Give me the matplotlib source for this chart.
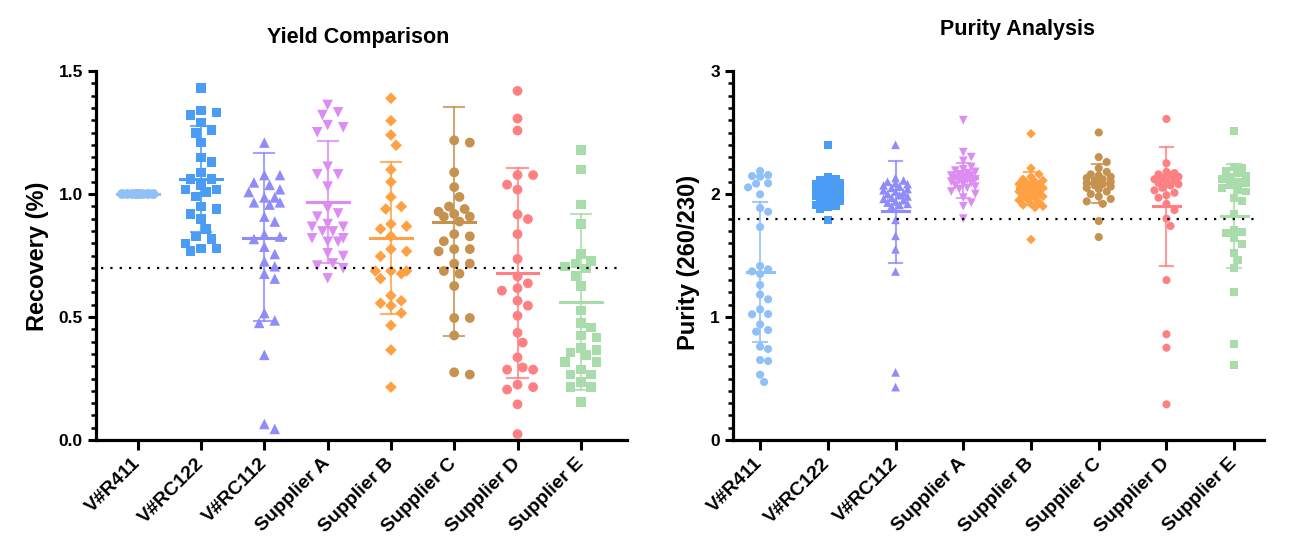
import matplotlib
matplotlib.use('Agg')
import matplotlib.pyplot as plt
import matplotlib.transforms as mtransforms
import numpy as np
from matplotlib.ticker import MultipleLocator

plt.rcParams['font.family'] = ['Liberation Sans', 'DejaVu Sans']
plt.rcParams['font.weight'] = 'bold'

categories = ['V#R411', 'V#RC122', 'V#RC112', 'Supplier A', 'Supplier B',
              'Supplier C', 'Supplier D', 'Supplier E']

# ---------------- Yield comparison (Recovery %) ----------------
rec_R411 = [1.0, 1.0, 1.0, 1.0, 1.0, 1.0, 1.0, 1.0, 1.0, 1.0, 1.0, 1.0, 1.0, 1.0, 1.0,
            1.0, 1.0, 1.0, 1.0, 1.0, 1.0, 1.0, 1.0, 1.0, 1.0, 1.0, 1.0, 1.0, 1.0, 1.0]
rec_RC122 = [1.430, 1.339, 1.331, 1.320, 1.290, 1.259, 1.249, 1.209, 1.148, 1.129, 1.088,
             1.060, 1.060, 1.037, 1.019, 1.019, 1.008, 0.989, 0.949, 0.939, 0.919, 0.898,
             0.858, 0.828, 0.818, 0.798, 0.778, 0.778, 0.768]
rec_RC112 = [1.209, 1.077, 1.077, 1.047, 1.037, 1.019, 1.008, 0.986, 0.986, 0.966, 0.966,
             0.957, 0.908, 0.888, 0.836, 0.827, 0.817, 0.786, 0.756, 0.726, 0.706, 0.676,
             0.656, 0.516, 0.486, 0.476, 0.346, 0.065, 0.045]
rec_A = [1.362, 1.332, 1.321, 1.280, 1.271, 1.251, 1.111, 1.080, 1.080, 1.030, 0.942,
         0.921, 0.908, 0.878, 0.867, 0.867, 0.848, 0.848, 0.820, 0.820, 0.806, 0.806,
         0.759, 0.748, 0.718, 0.709, 0.698, 0.657]
rec_B = [1.389, 1.298, 1.240, 1.198, 1.099, 1.049, 0.988, 0.949, 0.939, 0.878, 0.869,
         0.858, 0.828, 0.776, 0.767, 0.747, 0.687, 0.687, 0.687, 0.676, 0.656, 0.587,
         0.566, 0.556, 0.546, 0.516, 0.466, 0.366, 0.215]
rec_C = [1.218, 1.209, 1.088, 1.028, 0.988, 0.949, 0.939, 0.928, 0.919, 0.908, 0.908,
         0.888, 0.837, 0.828, 0.808, 0.776, 0.776, 0.767, 0.717, 0.717, 0.687, 0.676,
         0.626, 0.496, 0.496, 0.425, 0.275, 0.266]
rec_D = [1.419, 1.307, 1.258, 1.077, 1.077, 1.038, 1.018, 0.917, 0.898, 0.837, 0.736,
         0.665, 0.637, 0.617, 0.607, 0.566, 0.546, 0.505, 0.436, 0.396, 0.336, 0.295,
         0.286, 0.286, 0.225, 0.215, 0.205, 0.145, 0.024]
rec_E = [1.179, 1.099, 0.957, 0.878, 0.757, 0.728, 0.717, 0.706, 0.697, 0.667, 0.627,
         0.526, 0.476, 0.457, 0.425, 0.416, 0.375, 0.366, 0.355, 0.346, 0.316, 0.316,
         0.286, 0.266, 0.266, 0.236, 0.215, 0.215, 0.154]
rec_mean = [1.0, 1.062, 0.823, 0.967, 0.821, 0.888, 0.679, 0.562]
rec_low = [1.0, 0.846, 0.484, 0.721, 0.514, 0.424, 0.251, 0.203]
rec_high = [1.0, 1.278, 1.165, 1.214, 1.129, 1.355, 1.104, 0.919]
rec_threshold = 0.7

# ---------------- Purity analysis (260/230) ----------------
pur_R411 = [2.187, 2.154, 2.146, 2.141, 2.087, 2.084, 2.054, 1.997, 1.886, 1.856, 1.732,
            1.415, 1.388, 1.371, 1.350, 1.260, 1.182, 1.144, 1.062, 1.024, 1.022, 0.940,
            0.894, 0.881, 0.759, 0.740, 0.650, 0.642, 0.531, 0.472]
pur_RC122 = [2.40, 2.14, 2.12, 2.115, 2.10, 2.09, 2.08, 2.07, 2.055, 2.05, 2.04, 2.03,
             2.02, 2.01, 2.00, 2.00, 1.99, 1.98, 1.97, 1.96, 1.95, 1.94, 1.93, 1.92, 1.91,
             1.90, 1.89, 1.88, 1.79]
pur_RC112 = [2.40, 2.13, 2.11, 2.10, 2.09, 2.08, 2.07, 2.06, 2.05, 2.04, 2.03, 2.02,
             2.01, 2.00, 1.99, 1.98, 1.97, 1.96, 1.95, 1.94, 1.93, 1.92, 1.91, 1.90,
             1.79, 1.66, 1.55, 1.37, 0.55, 0.43]
pur_A = [2.60, 2.34, 2.30, 2.27, 2.22, 2.20, 2.19, 2.18, 2.17, 2.16, 2.15, 2.15, 2.14,
         2.13, 2.12, 2.12, 2.11, 2.10, 2.09, 2.08, 2.07, 2.06, 2.05, 2.04, 2.02, 2.00,
         1.97, 1.93, 1.90, 1.80]
pur_B = [2.49, 2.21, 2.16, 2.14, 2.12, 2.11, 2.10, 2.09, 2.08, 2.07, 2.06, 2.06, 2.05,
         2.04, 2.03, 2.02, 2.01, 2.00, 1.99, 1.98, 1.97, 1.96, 1.95, 1.93, 1.92, 1.91,
         1.90, 1.89, 1.63]
pur_C = [2.50, 2.30, 2.26, 2.21, 2.18, 2.16, 2.15, 2.14, 2.13, 2.12, 2.11, 2.10, 2.10,
         2.09, 2.08, 2.07, 2.06, 2.05, 2.04, 2.02, 2.00, 1.98, 1.96, 1.94, 1.92, 1.78, 1.65]
pur_D = [2.61, 2.25, 2.18, 2.17, 2.16, 2.15, 2.14, 2.13, 2.12, 2.11, 2.10, 2.09, 2.08,
         2.07, 2.05, 2.03, 2.01, 1.99, 1.97, 1.92, 1.87, 1.80, 1.74, 1.30, 0.86, 0.75, 0.29]
pur_E = [2.51, 2.22, 2.21, 2.19, 2.17, 2.15, 2.14, 2.12, 2.10, 2.09, 2.07, 2.05, 2.03,
         2.02, 1.97, 1.94, 1.84, 1.71, 1.69, 1.68, 1.64, 1.59, 1.52, 1.46, 1.40, 1.20,
         0.78, 0.61]
pur_mean = [1.369, 2.00, 1.862, 2.127, 2.046, 2.087, 1.900, 1.824]
pur_low = [0.799, 1.90, 1.442, 1.970, 1.910, 1.924, 1.412, 1.400]
pur_high = [1.938, 2.10, 2.271, 2.249, 2.180, 2.241, 2.379, 2.241]
pur_threshold = 1.8

colors = ['#8fc0f7', '#4a9cf5', '#8f8cfa', '#dc8cf3', '#ffa143', '#c69250', '#ff8082', '#a9dcab']
markers = ['o', 's', '^', 'v', 'D', 'o', 'o', 's']
msize_scale = [1.0, 0.95, 1.15, 1.15, 0.7, 1.0, 1.0, 0.95]

rec_groups = [rec_R411, rec_RC122, rec_RC112, rec_A, rec_B, rec_C, rec_D, rec_E]
pur_groups = [pur_R411, pur_RC122, pur_RC112, pur_A, pur_B, pur_C, pur_D, pur_E]

W, H = 1295, 557
fig = plt.figure(figsize=(W / 100, H / 100), dpi=100)
ax1 = fig.add_axes([96 / W, 117 / H, 531 / W, 369 / H])
ax2 = fig.add_axes([733 / W, 117 / H, 531 / W, 369 / H])

ax1.set_xlim(-0.66, 7.73)
ax1.set_ylim(0, 1.5)
ax2.set_xlim(-0.40, 7.44)
ax2.set_ylim(0, 3)


def swarm(ax, x0, values, diam, step, cap):
    trans = ax.transData
    pts = trans.transform(np.column_stack([np.full(len(values), float(x0)), values]))
    ys = pts[:, 1]
    px_per_unit = trans.transform((1, 0))[0] - trans.transform((0, 0))[0]
    cands = [0.0]
    k = 1
    while k * step <= cap + 1e-9:
        cands += [k * step, -k * step]
        k += 1
    placed = []
    offs = np.zeros(len(values))
    for i in np.argsort(-ys):
        best, best_score = None, -1
        for c in cands:
            if placed:
                d = min(np.hypot(c - px, ys[i] - py) for px, py in placed)
            else:
                d = np.inf
            if d >= diam:
                best = c
                break
            if d > best_score:
                best_score, best = d, c
        offs[i] = best
        placed.append((best, ys[i]))
    return x0 + offs / px_per_unit


def draw_panel(ax, groups, means, lows, highs, thr, msize, diam, step, cap, mw, cw,
               yticks_major, yminor, fmt):
    for i, vals in enumerate(groups):
        xs = swarm(ax, i, np.array(vals), diam, step, cap)
        ax.scatter(xs, vals, s=msize * msize_scale[i], marker=markers[i], color=colors[i],
                   edgecolors='none', zorder=3, clip_on=False)
        ax.plot([i, i], [lows[i], highs[i]], color=colors[i], lw=1.5, alpha=0.8, zorder=4)
        ax.plot([i - cw, i + cw], [lows[i], lows[i]], color=colors[i], lw=1.5, alpha=0.8, zorder=4)
        ax.plot([i - cw, i + cw], [highs[i], highs[i]], color=colors[i], lw=1.5, alpha=0.8, zorder=4)
        ax.plot([i - mw, i + mw], [means[i], means[i]], color=colors[i], lw=2.2, zorder=4)
    ax.axhline(thr, xmin=0.01, xmax=0.985, color='black', ls=(0, (1, 3.2)), lw=1.6, zorder=5)
    for s in ['top', 'right']:
        ax.spines[s].set_visible(False)
    for s in ['left', 'bottom']:
        ax.spines[s].set_linewidth(2.3)
    ax.set_xticks(range(len(categories)))
    ax.set_xticklabels(categories, rotation=45, ha='right', va='center',
                       rotation_mode='anchor', fontsize=14, fontweight='bold')
    shift = mtransforms.ScaledTranslation(4 / 72, 0, fig.dpi_scale_trans)
    for lab in ax.get_xticklabels():
        lab.set_transform(lab.get_transform() + shift)
    ax.set_yticks(yticks_major)
    ax.set_yticklabels([fmt.format(v) for v in yticks_major], fontsize=12.5, fontweight='bold')
    ax.yaxis.set_minor_locator(MultipleLocator(yminor))
    ax.tick_params(axis='y', which='major', length=6, width=2.2, direction='out')
    ax.tick_params(axis='y', which='minor', length=3.5, width=1.8, direction='out')
    ax.tick_params(axis='x', which='major', length=7, width=2.2, direction='out', pad=8)


draw_panel(ax1, rec_groups, rec_mean, rec_low, rec_high, rec_threshold,
           msize=50, diam=11, step=5.2, cap=16, mw=0.33, cw=0.16,
           yticks_major=[0, 0.5, 1.0, 1.5], yminor=0.05, fmt='{:.1f}')
draw_panel(ax2, pur_groups, pur_mean, pur_low, pur_high, pur_threshold,
           msize=34, diam=8, step=4, cap=13, mw=0.2, cw=0.1,
           yticks_major=[0, 1, 2, 3], yminor=0.1, fmt='{:.0f}')

fig.text(358 / W, 1 - 38 / H, 'Yield Comparison', ha='center', va='center',
         fontsize=15.5, fontweight='bold')
fig.text(1017 / W, 1 - 30 / H, 'Purity Analysis', ha='center', va='center',
         fontsize=15.5, fontweight='bold')
fig.text(38 / W, 1 - 256 / H, 'Recovery (%)', ha='center', va='center', rotation=90,
         fontsize=17, fontweight='bold')
fig.text(688 / W, 1 - 262 / H, 'Purity (260/230)', ha='center', va='center', rotation=90,
         fontsize=17, fontweight='bold')

fig.savefig('out.png', dpi=100)
